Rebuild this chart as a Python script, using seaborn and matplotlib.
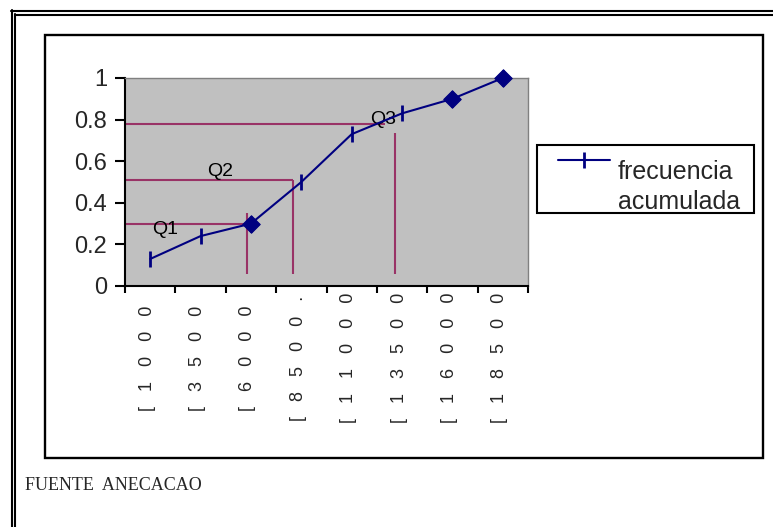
import matplotlib.pyplot as plt
import matplotlib.ticker as tkr
import matplotlib.transforms as mtrans
from matplotlib.legend_handler import HandlerLine2D
from matplotlib.lines import Line2D
from matplotlib.patches import Rectangle
import pandas as pd
import seaborn as sns

sns.set_style("white")
plt.rcParams['font.family'] = ['Liberation Sans', 'DejaVu Sans']

# data
clases = ["[1000", "[3500", "[6000", "[8500.", "[11000", "[13500", "[16000", "[18500"]
frecuencia_acumulada = [0.13, 0.24, 0.30, 0.50, 0.73, 0.83, 0.90, 1.00]
destacados = [2, 6, 7]  # points drawn with a diamond marker

# quartile guide lines
cuartiles = ["Q1", "Q2", "Q3"]
nivel_q = [0.30, 0.51, 0.78]
fin_horizontal = [1.92, 2.83, 4.66]
x_vertical = [1.92, 2.83, 4.86]
tope_vertical = [0.35, 0.51, 0.735]
base_vertical = 0.058
etiqueta_x = [0.29, 1.39, 4.62]
etiqueta_y = [0.27, 0.55, 0.80]

W, H = 773, 527


def fx(x):
    return x / W


def fy(y):
    return 1 - y / H


class TopHandler(HandlerLine2D):
    # legend key sits next to the first line of the label, like the original
    def create_artists(self, legend, orig_handle, xdescent, ydescent, width, height, fontsize, trans):
        artists = super().create_artists(legend, orig_handle, xdescent, ydescent, width, height,
                                         fontsize, trans)
        for a in artists:
            a.set_ydata(a.get_ydata() + 1.1 * fontsize)
        return artists


df = pd.DataFrame({"pos": range(len(clases)), "frecuencia": frecuencia_acumulada})

fig = plt.figure(figsize=(W / 100, H / 100), dpi=100)
ax = fig.add_axes([fx(125), fy(286), (528 - 125) / W, (286 - 78) / H])
ax.set_facecolor("#C0C0C0")

# quartile lines
ax.hlines(nivel_q, -0.5, fin_horizontal, color="#993366", lw=1.5, zorder=1.5)
ax.vlines(x_vertical, base_vertical, tope_vertical, color="#993366", lw=1.5, zorder=1.5)
for lbl, tx, ty in zip(cuartiles, etiqueta_x, etiqueta_y):
    ax.text(tx, ty, lbl, ha="center", va="center", fontsize=14, color="black", zorder=3)

sns.lineplot(data=df, x="pos", y="frecuencia", color="#000080", lw=1.5, marker="|",
             markersize=12, markeredgewidth=2, markeredgecolor="#000080",
             label="frecuencia\nacumulada", ax=ax, zorder=4, clip_on=False)
sns.scatterplot(data=df.iloc[destacados], x="pos", y="frecuencia", marker="D", s=80,
                color="#000080", edgecolor="#000080", legend=False, ax=ax, zorder=5, clip_on=False)

ax.set_xlim(-0.5, len(clases) - 0.5)
ax.set_ylim(0, 1)
ax.set_xlabel("")
ax.set_ylabel("")

ax.set_yticks([0, 0.2, 0.4, 0.6, 0.8, 1.0])
ax.yaxis.set_major_formatter(tkr.FuncFormatter(lambda v, p: "{:g}".format(v)))
ax.tick_params(axis="y", left=True, direction="out", length=7, width=1.5, color="black",
               labelsize=17, pad=6)

ax.set_xticks(range(len(clases)))
ax.set_xticklabels(["   ".join(c) for c in clases])
ax.set_xticks([i - 0.5 for i in range(len(clases) + 1)], minor=True)
ax.tick_params(axis="x", which="major", bottom=True, length=0, labelsize=13,
               labelrotation=90, pad=51.8)
ax.tick_params(axis="x", which="minor", bottom=True, direction="out", length=5, width=1.5,
               color="black")
shift = mtrans.ScaledTranslation(-3 / 100, 0, fig.dpi_scale_trans)
for lab in ax.get_xticklabels():
    lab.set_va("center")
    lab.set_transform(lab.get_transform() + shift)

for side in ["top", "right"]:
    ax.spines[side].set_color("#808080")
    ax.spines[side].set_linewidth(1)
for side in ["left", "bottom"]:
    ax.spines[side].set_color("black")
    ax.spines[side].set_linewidth(1.5)

# legend: frame drawn separately so the key can sit inset like the original
handles, labels = ax.get_legend_handles_labels()
leg = ax.legend(handles, labels, loc="upper left", bbox_to_anchor=(fx(558), fy(160)),
                bbox_transform=fig.transFigure, borderaxespad=0, borderpad=0, frameon=False,
                fontsize=18, handlelength=2.08, handletextpad=0.32,
                handler_map={Line2D: TopHandler()})
for t in leg.get_texts():
    t.set_linespacing(1.3)
fig.add_artist(Rectangle((fx(537), fy(213)), (754 - 537) / W, (213 - 145) / H,
                         transform=fig.transFigure, facecolor="white", edgecolor="black",
                         lw=1.5, zorder=-1))

# page frames
for y0, x0 in [(10.5, 11), (14.5, 15)]:
    fig.add_artist(Line2D([fx(x0), 1.01], [fy(y0), fy(y0)], transform=fig.transFigure,
                          color="black", lw=1.5))
for x0, y0 in [(11.5, 10), (15, 14)]:
    fig.add_artist(Line2D([fx(x0), fx(x0)], [fy(y0), -0.01], transform=fig.transFigure,
                          color="black", lw=1.5))
fig.add_artist(Rectangle((fx(45), fy(458)), (763 - 45) / W, (458 - 35) / H, fill=False,
                         transform=fig.transFigure, edgecolor="black", lw=1.7, zorder=-2))

fig.text(fx(25), fy(490), "FUENTE  ANECACAO", family=["Liberation Serif", "DejaVu Serif"],
         fontsize=13, va="baseline", ha="left")

plt.savefig("out.png", dpi=100)
plt.close(fig)
